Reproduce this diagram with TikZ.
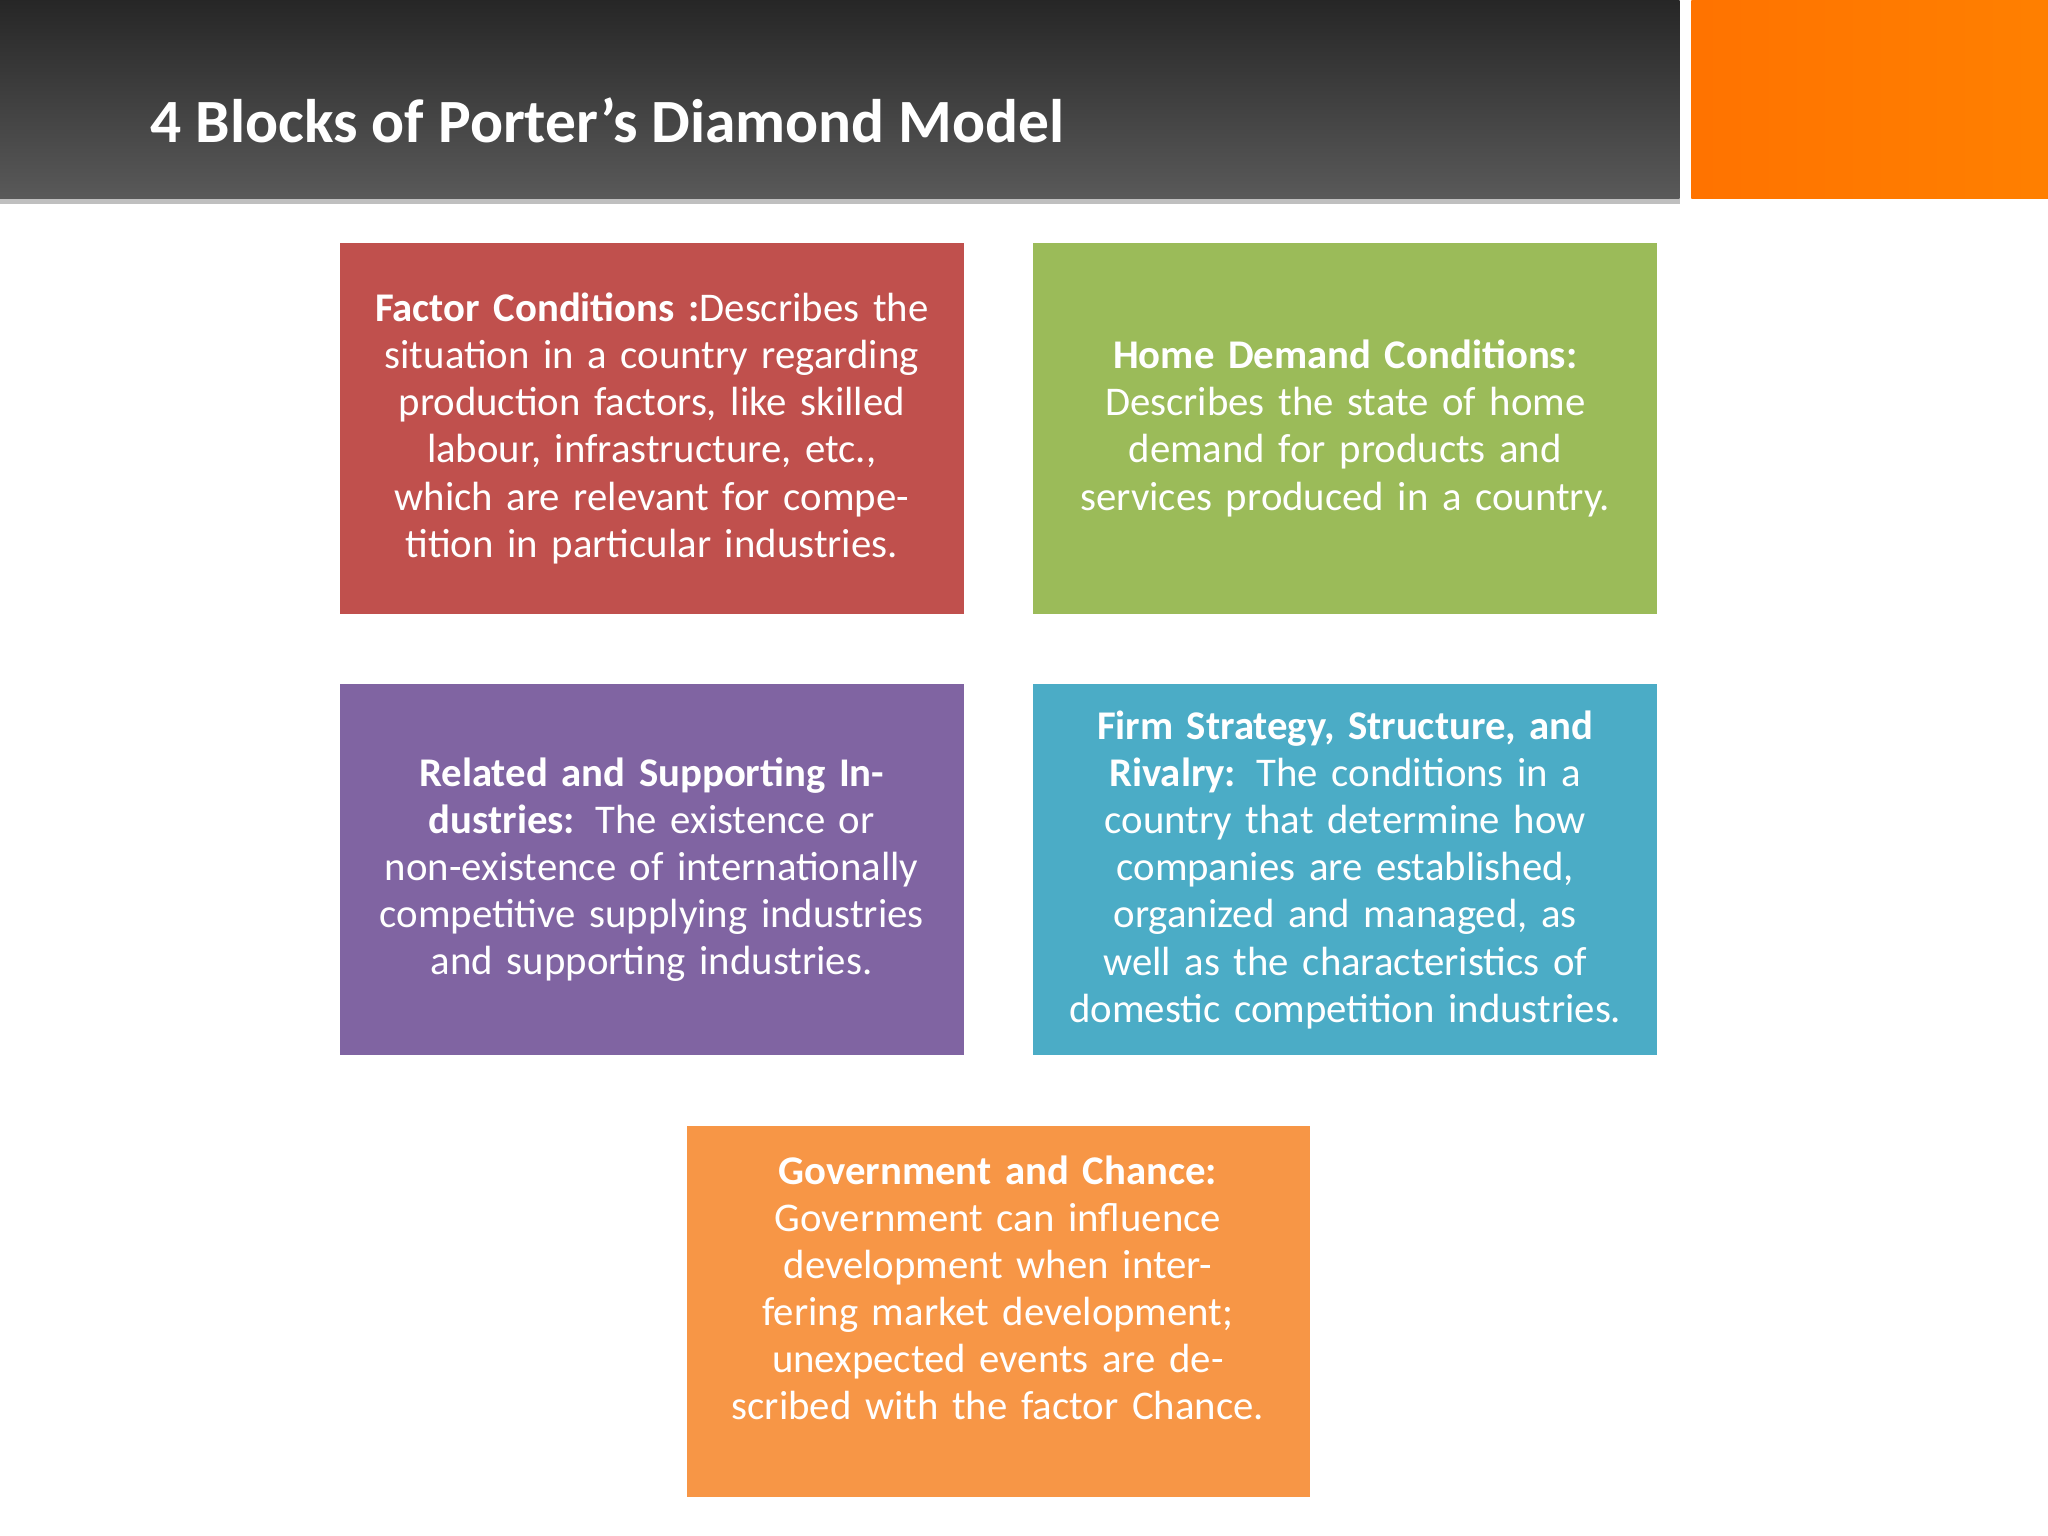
\documentclass[tikz,border=0pt]{standalone}
\usepackage{fontspec}
\setmainfont{Carlito}
\definecolor{cred}{HTML}{C0504D}
\definecolor{cgreen}{HTML}{9BBB59}
\definecolor{cpurple}{HTML}{8064A2}
\definecolor{cblue}{HTML}{4BACC6}
\definecolor{corange}{HTML}{F79646}
\begin{document}
\begin{tikzpicture}[x=0.013061cm,y=-0.013061cm,
  blk/.style={fill=#1,draw=none,text=white,align=center,text width=165pt,
    font=\fontsize{11.6pt}{13.4pt}\selectfont,inner sep=0pt}]
\useasboundingbox (0,0) rectangle (1568,1176);
\fill[white] (0,0) rectangle (1568,1176);
\shade[top color=black!85,bottom color=black!65] (0,0) rectangle (1286,152);
\shade[left color=orange!90!red,right color=orange] (1295,0) rectangle (1568,152);
\fill[black!25] (0,152) rectangle (1286,156);
\node[anchor=west,text=white,font=\bfseries\fontsize{17.5pt}{20pt}\selectfont] (title) at (106,92) {4 Blocks of Porter’s Diamond Model};
\fill[cred] (260,186) rectangle (738,470);
\fill[cgreen] (791,186) rectangle (1269,470);
\fill[cpurple] (260,524) rectangle (738,808);
\fill[cblue] (791,524) rectangle (1269,808);
\fill[corange] (526,862) rectangle (1003,1146);
\node[blk=cred] (f) at (499,328) {\textbf{Factor Conditions :}Describes the situation in a country regarding production factors, like skilled labour, infrastructure, etc., which are relevant for competition in particular industries.};
\node[blk=cgreen] (h) at (1030,328) {\textbf{Home Demand Conditions:} Describes the state of home demand for products and services produced in a country.};
\node[blk=cpurple] (r) at (499,666) {\textbf{Related and Supporting Industries:} The existence or non-existence of internationally competitive supplying industries and supporting industries.};
\node[blk=cblue] (s) at (1030,666) {\textbf{Firm Strategy, Structure, and Rivalry:} The conditions in a country that determine how companies are established, organized and managed, as well as the characteristics of domestic competition industries.};
\node[blk=corange] (g) at (764,986) {\textbf{Government and Chance:} Government can influence development when interfering market development; unexpected events are described with the factor Chance.};
\end{tikzpicture}
\end{document}
